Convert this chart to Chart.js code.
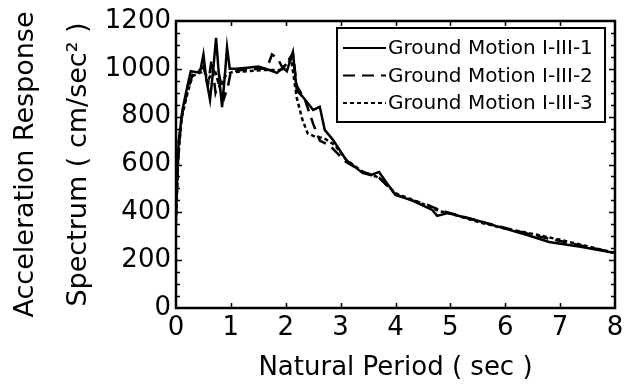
<!DOCTYPE html>
<html>
<head>
<meta charset="utf-8">
<script src="https://cdn.jsdelivr.net/npm/chart.js@4"></script>
<style>
  html, body { margin: 0; padding: 0; background: #fff; }
  #wrap { width: 633px; height: 386px; }
</style>
</head>
<body>
<div id="wrap"><canvas id="spectrumChart"></canvas></div>
<script>
const periods1 = [0, 0.05, 0.12, 0.2, 0.27, 0.4, 0.45, 0.5, 0.55, 0.62, 0.68, 0.73, 0.78, 0.84, 0.9, 0.93, 0.98, 1.1, 1.3, 1.5, 1.7, 1.84, 1.95, 2.02, 2.13, 2.2, 2.31, 2.5, 2.62, 2.71, 2.86, 3.1, 3.4, 3.55, 3.7, 3.85, 4.0, 4.3, 4.67, 4.76, 4.95, 5.5, 5.95, 6.4, 6.8, 7.4, 8.0];
const values1 = [400, 700, 830, 920, 990, 985, 1000, 1060, 960, 870, 1000, 1130, 980, 840, 1000, 1090, 1000, 1000, 1005, 1010, 995, 983, 1005, 990, 1070, 910, 883, 828, 841, 745, 703, 619, 565, 555, 569, 520, 473, 450, 410, 385, 397, 365, 335, 305, 276, 255, 230];

const periods2 = [0, 0.04, 0.1, 0.2, 0.3, 0.4, 0.5, 0.58, 0.65, 0.72, 0.8, 0.88, 0.95, 1.0, 1.2, 1.5, 1.65, 1.75, 1.85, 1.95, 2.13, 2.2, 2.35, 2.5, 2.62, 2.8, 3.1, 3.4, 3.7, 4.0, 4.3, 4.6, 4.67, 4.8, 4.95, 5.5, 6.0, 6.5, 7.0, 7.5, 8.0];
const values2 = [380, 640, 800, 900, 975, 985, 1010, 930, 1040, 900, 960, 880, 930, 990, 995, 1000, 1000, 1060, 1045, 1000, 1065, 930, 870, 770, 700, 680, 610, 570, 545, 475, 450, 430, 423, 410, 400, 365, 335, 305, 280, 255, 230];

const periods3 = [0, 0.04, 0.1, 0.2, 0.3, 0.4, 0.5, 0.6, 0.7, 0.8, 0.9, 1.0, 1.3, 1.6, 1.9, 2.1, 2.2, 2.3, 2.4, 2.55, 2.7, 2.9, 3.1, 3.4, 3.7, 4.0, 4.4, 4.8, 5.0, 5.5, 6.0, 6.5, 7.0, 7.5, 8.0];
const values3 = [360, 620, 790, 890, 970, 980, 990, 960, 1000, 920, 970, 985, 990, 995, 995, 1040, 880, 790, 730, 715, 710, 680, 620, 570, 545, 480, 445, 405, 395, 360, 332, 310, 285, 258, 230];

const seriesLabels = ["Ground Motion I-III-1", "Ground Motion I-III-2", "Ground Motion I-III-3"];
const xTicks = [0, 1, 2, 3, 4, 5, 6, 7, 8];
const yTicks = [0, 200, 400, 600, 800, 1000, 1200];

const FONT = "'DejaVu Sans', sans-serif";

const toPoints = (xs, ys) => xs.map((x, i) => ({ x, y: ys[i] }));

// frame, inside ticks and the boxed legend
const framePlugin = {
  id: "frame",
  afterDraw(chart) {
    const { ctx, chartArea: a, scales } = chart;
    ctx.save();
    ctx.strokeStyle = "#000";
    ctx.lineWidth = 1.5;
    for (let v = 50; v < 1200; v += 50) {
      const y = Math.round(scales.y.getPixelForValue(v)) + 0.5;
      const len = v % 200 === 0 ? 6 : 4;
      ctx.beginPath();
      ctx.moveTo(a.left, y);
      ctx.lineTo(a.left + len, y);
      ctx.moveTo(a.right, y);
      ctx.lineTo(a.right - len, y);
      ctx.stroke();
    }
    xTicks.slice(1, -1).forEach((v) => {
      const x = Math.round(scales.x.getPixelForValue(v)) + 0.5;
      ctx.beginPath();
      ctx.moveTo(x, a.bottom);
      ctx.lineTo(x, a.bottom - 5);
      ctx.moveTo(x, a.top);
      ctx.lineTo(x, a.top + 5);
      ctx.stroke();
    });
    ctx.lineWidth = 2.5;
    ctx.strokeRect(a.left, a.top, a.right - a.left, a.bottom - a.top);

    // legend
    const lx = 337, ly = 28, lw = 268, lh = 94;
    ctx.fillStyle = "#fff";
    ctx.fillRect(lx, ly, lw, lh);
    ctx.lineWidth = 2;
    ctx.strokeRect(lx, ly, lw, lh);
    ctx.font = "20px " + FONT;
    ctx.textBaseline = "middle";
    ctx.fillStyle = "#000";
    chart.data.datasets.forEach((ds, i) => {
      const cy = 48 + i * 27.5;
      ctx.beginPath();
      ctx.lineWidth = 2;
      ctx.setLineDash(ds.borderDash || []);
      ctx.moveTo(343, cy);
      ctx.lineTo(386, cy);
      ctx.stroke();
      ctx.setLineDash([]);
      ctx.fillText(ds.label, 388, cy + 1);
    });
    ctx.restore();
  },
};

new Chart(document.getElementById("spectrumChart"), {
  type: "scatter",
  data: {
    datasets: [
      { label: seriesLabels[0], data: toPoints(periods1, values1), borderDash: [] },
      { label: seriesLabels[1], data: toPoints(periods2, values2), borderDash: [12, 7] },
      { label: seriesLabels[2], data: toPoints(periods3, values3), borderDash: [4, 3] },
    ].map((d) => ({
      ...d,
      showLine: true,
      borderColor: "#000",
      backgroundColor: "#000",
      borderWidth: 2.5,
      pointRadius: 0,
      tension: 0,
    })),
  },
  options: {
    responsive: true,
    maintainAspectRatio: false,
    animation: false,
    events: [],
    layout: { padding: { top: 21, right: 18, left: 0, bottom: 0 } },
    plugins: { legend: { display: false }, tooltip: { enabled: false } },
    scales: {
      x: {
        type: "linear",
        min: 0,
        max: 8,
        afterBuildTicks: (s) => { s.ticks = xTicks.map((v) => ({ value: v })); },
        afterFit: (s) => { s.height = 78; },
        grid: { display: false, drawTicks: false },
        border: { display: false },
        ticks: { color: "#000", font: { family: FONT, size: 26 }, padding: 5, maxRotation: 0, callback: (v) => String(v) },
        title: {
          display: true,
          text: "Natural Period ( sec )",
          color: "#000",
          font: { family: FONT, size: 26, lineHeight: 1.2 },
          padding: { top: 0, bottom: 2 },
        },
      },
      y: {
        type: "linear",
        min: 0,
        max: 1200,
        afterBuildTicks: (s) => { s.ticks = yTicks.map((v) => ({ value: v })); },
        afterFit: (s) => { s.width = 176; },
        grid: { display: false, drawTicks: false },
        border: { display: false },
        ticks: { color: "#000", font: { family: FONT, size: 26 }, padding: 5, callback: (v) => String(v) },
        title: {
          display: true,
          text: ["Acceleration Response", "Spectrum ( cm/sec² )"],
          color: "#000",
          font: { family: FONT, size: 27, lineHeight: 1.95 },
          padding: { top: 0, bottom: 0 },
        },
      },
    },
  },
  plugins: [framePlugin],
});
</script>
</body>
</html>
